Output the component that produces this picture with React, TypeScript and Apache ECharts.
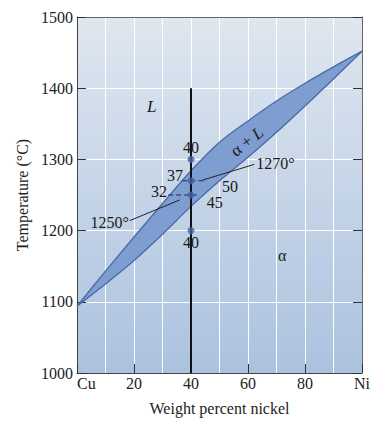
import React, { useEffect, useRef } from "react";
import * as echarts from "echarts";

// ---- data ----
const nickelPct = [0, 10, 20, 30, 40, 50, 60, 70, 80, 90, 100];
const liquidusT = [1094, 1143, 1191, 1238, 1284, 1324, 1354, 1382, 1407, 1430, 1452];
const solidusT = [1094, 1125, 1158, 1195, 1234, 1270, 1303, 1338, 1375, 1413, 1452];

const xTickValues = [0, 20, 40, 60, 80, 100];
const xTickLabels = ["Cu", "20", "40", "60", "80", "Ni"];

const alloyLine = [[40, 1000], [40, 1400]];
const alloyPoints = [[40, 1300], [40, 1270], [40, 1250], [40, 1200]];
const tie1270 = [[37, 1270], [45, 1270]];
const tie1250 = [[32, 1250], [42, 1250]];
const leader1270 = [[44.1, 1271], [62.2, 1293]];
const leader1250 = [[18.5, 1214], [36, 1243]];

const labelTexts = ["L", "α + L", "α", "40", "40", "37", "32", "50", "45", "1270°", "1250°"];
const labelX = [26.2, 59.6, 72, 40, 40, 34.4, 28.8, 53.7, 48.3, 62.9, 11.5];
const labelY = [1374, 1325, 1165, 1317, 1183, 1278, 1255, 1262, 1239, 1294, 1211];

const FONT = '"Liberation Serif", "Times New Roman", serif';

function catmull(pts: number[][], startWithMove: boolean): string {
  let d = "";
  const n = pts.length;
  if (startWithMove) d += `M${pts[0][0]},${pts[0][1]}`;
  else d += `L${pts[0][0]},${pts[0][1]}`;
  for (let i = 0; i < n - 1; i++) {
    const p0 = pts[Math.max(0, i - 1)];
    const p1 = pts[i];
    const p2 = pts[i + 1];
    const p3 = pts[Math.min(n - 1, i + 2)];
    const c1x = p1[0] + (p2[0] - p0[0]) / 6;
    const c1y = p1[1] + (p2[1] - p0[1]) / 6;
    const c2x = p2[0] - (p3[0] - p1[0]) / 6;
    const c2y = p2[1] - (p3[1] - p1[1]) / 6;
    d += `C${c1x},${c1y},${c2x},${c2y},${p2[0]},${p2[1]}`;
  }
  return d;
}

export default function App() {
  const ref = useRef<HTMLDivElement>(null);
  useEffect(() => {
    if (!ref.current) return;
    const chart = echarts.init(ref.current, null, { renderer: "svg" });
    const labelData = labelTexts.map((t, i) => [labelX[i], labelY[i], i]);
    const edge = "#4a6aa6";

    chart.setOption({
      animation: false,
      grid: {
        left: 77,
        top: 17,
        width: 286,
        height: 360,
        show: true,
        borderWidth: 0,
        backgroundColor: new echarts.graphic.LinearGradient(0, 0, 0, 1, [
          { offset: 0, color: "#dfe7f0" },
          { offset: 1, color: "#abc2df" },
        ]),
      },
      xAxis: [
        {
          type: "value",
          min: 0,
          max: 100,
          interval: 20,
          position: "bottom",
          name: "Weight percent nickel",
          nameLocation: "middle",
          nameGap: 27,
          nameTextStyle: { fontFamily: FONT, fontSize: 16, color: "#222" },
          axisLine: { show: true, onZero: false, lineStyle: { color: "#444", width: 1 } },
          axisTick: { show: true, inside: true, length: 9, lineStyle: { color: "#333", width: 1 } },
          axisLabel: {
            margin: 2,
            fontFamily: FONT,
            fontSize: 16,
            color: "#222",
            alignMinLabel: "left",
            formatter: (v: number) => {
              const k = xTickValues.indexOf(v);
              return k >= 0 ? xTickLabels[k] : "";
            },
          },
          splitLine: { show: true, lineStyle: { color: "#ffffff", width: 1 } },
          minorTick: { show: false, splitNumber: 2 },
          minorSplitLine: { show: true, lineStyle: { color: "#ffffff", width: 1 } },
        },
        {
          type: "value",
          min: 0,
          max: 100,
          position: "top",
          axisLine: { show: true, onZero: false, lineStyle: { color: "#666", width: 1 } },
          axisTick: { show: false },
          axisLabel: { show: false },
          splitLine: { show: false },
        },
      ],
      yAxis: [
        {
          type: "value",
          min: 1000,
          max: 1500,
          interval: 100,
          position: "left",
          name: "Temperature (°C)",
          nameLocation: "middle",
          nameGap: 42,
          nameTextStyle: { fontFamily: FONT, fontSize: 16, color: "#222" },
          axisLine: { show: true, onZero: false, lineStyle: { color: "#444", width: 1 } },
          axisTick: { show: true, inside: true, length: 9, lineStyle: { color: "#333", width: 1 } },
          axisLabel: {
            margin: 4,
            fontFamily: FONT,
            fontSize: 16,
            color: "#222",
            formatter: (v: number) => String(v),
          },
          splitLine: { show: true, lineStyle: { color: "#ffffff", width: 1 } },
        },
        {
          type: "value",
          min: 1000,
          max: 1500,
          interval: 100,
          position: "right",
          axisLine: { show: true, onZero: false, lineStyle: { color: "#666", width: 1 } },
          axisTick: { show: true, inside: true, length: 9, lineStyle: { color: "#333", width: 1 } },
          axisLabel: { show: false },
          splitLine: { show: false },
        },
      ],
      series: [
        {
          type: "custom",
          name: "two-phase band",
          data: [[0, 0]],
          z: 2,
          silent: true,
          renderItem: (params: any, api: any) => {
            const liq = nickelPct.map((x, i) => api.coord([x, liquidusT[i]]));
            const sol = nickelPct.map((x, i) => api.coord([x, solidusT[i]])).reverse();
            const d = catmull(liq, true) + catmull(sol, false) + "Z";
            return {
              type: "path",
              shape: { pathData: d },
              style: { fill: "#7e9dd1", stroke: edge, lineWidth: 1.3 },
            };
          },
        },
        {
          type: "line",
          data: alloyLine,
          symbol: "none",
          lineStyle: { color: "#111", width: 2 },
          z: 5,
        },
        {
          type: "line",
          data: tie1270,
          symbol: "none",
          lineStyle: { color: "#1d2b45", width: 1, type: [5, 3] },
          z: 4,
        },
        {
          type: "line",
          data: tie1250,
          symbol: "none",
          lineStyle: { color: "#1d2b45", width: 1, type: [5, 3] },
          z: 4,
        },
        {
          type: "line",
          data: leader1270,
          symbol: "none",
          lineStyle: { color: "#222", width: 1 },
          z: 4,
        },
        {
          type: "line",
          data: leader1250,
          symbol: "none",
          lineStyle: { color: "#222", width: 1 },
          z: 4,
        },
        {
          type: "scatter",
          data: alloyPoints,
          symbol: "circle",
          symbolSize: 7,
          itemStyle: { color: "#3f65a8" },
          z: 10,
        },
        {
          type: "custom",
          data: labelData,
          z: 12,
          silent: true,
          clip: false,
          renderItem: (params: any, api: any) => {
            const i = params.dataIndex;
            const p = api.coord([labelX[i], labelY[i]]);
            const t = labelTexts[i];
            const isLeftAligned = t === "1270°";
            const base: any = {
              fontFamily: FONT,
              fontSize: 16,
              fill: "#1a1a1a",
              align: isLeftAligned ? "left" : "center",
              verticalAlign: "middle",
            };
            if (t === "α + L") {
              return {
                type: "text",
                x: p[0],
                y: p[1],
                rotation: (38 * Math.PI) / 180,
                style: {
                  ...base,
                  text: "{n|α + }{i|L}",
                  rich: {
                    n: { fontFamily: FONT, fontSize: 17, fill: "#1a1a1a" },
                    i: { fontFamily: FONT, fontSize: 17, fontStyle: "italic", fill: "#1a1a1a" },
                  },
                },
              };
            }
            if (t === "L") {
              return { type: "text", x: p[0], y: p[1], style: { ...base, fontSize: 17, fontStyle: "italic", text: t } };
            }
            return { type: "text", x: p[0], y: p[1], style: { ...base, text: t } };
          },
        },
      ],
    });
    return () => chart.dispose();
  }, []);
  return <div ref={ref} style={{ width: 373, height: 421, position: "absolute", left: 0, top: 0 }} />;
}
